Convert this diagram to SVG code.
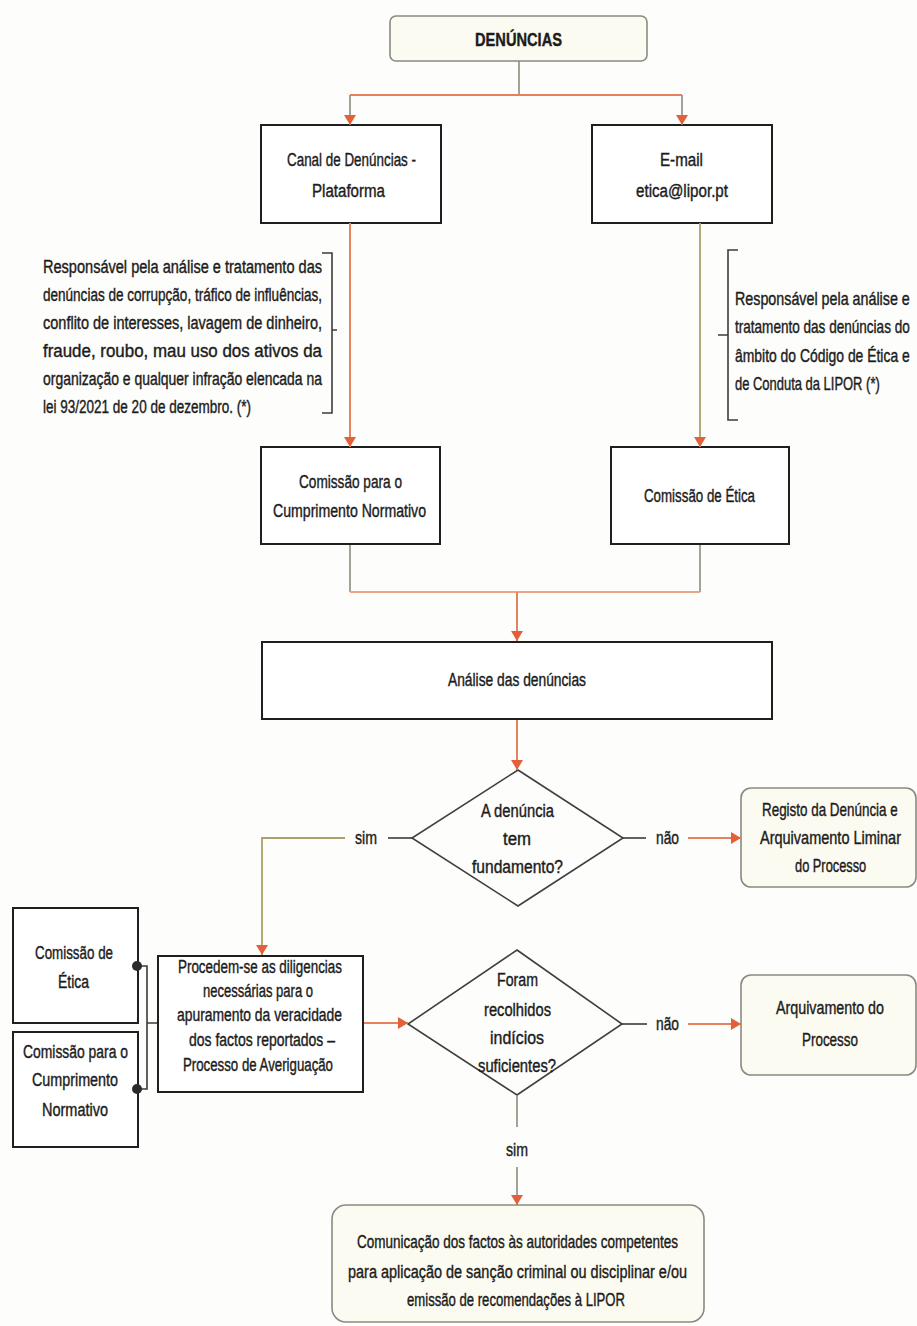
<svg xmlns="http://www.w3.org/2000/svg" width="917" height="1326" viewBox="0 0 917 1326">
<defs>
<marker id="arr" markerUnits="userSpaceOnUse" markerWidth="10" markerHeight="12" viewBox="0 0 10 12" refX="10" refY="6" orient="auto">
<path d="M0,0 L10,6 L0,12 Z" fill="#e2613a"/>
</marker>
<style>
text{font-family:"Liberation Sans",Arial,sans-serif;font-size:18px;fill:#1c1c1c;stroke:#1c1c1c;stroke-width:0.4;dominant-baseline:central}
.b{font-weight:bold;font-size:19px}
.box{fill:#ffffff;stroke:#1f1f1f;stroke-width:2}
.rbox{fill:#fcfbf1;stroke:#8a8a80;stroke-width:1.6}
.dia{fill:none;stroke:#3f3f3f;stroke-width:1.6}
.o{fill:none;stroke:#e3825c;stroke-width:2}
.lo{fill:none;stroke:#e9a585;stroke-width:2}
.g{fill:none;stroke:#8e8c7e;stroke-width:1.6}
.ol{fill:none;stroke:#ab9f6a;stroke-width:1.8}
.d{fill:none;stroke:#3a3a3a;stroke-width:1.6}
.br{fill:none;stroke:#3d3d3d;stroke-width:1.6}
</style>
</defs>
<rect x="0" y="0" width="917" height="1326" fill="#fdfdfb"/>

<g id="denuncias">
<rect class="rbox" x="390" y="16" width="257" height="45" rx="6"/>
<text class="b" x="475" y="39" textLength="87" lengthAdjust="spacingAndGlyphs">DENÚNCIAS</text>
</g>

<g id="canal">
<rect class="box" x="261" y="125" width="180" height="98"/>
<text x="287" y="160" textLength="129" lengthAdjust="spacingAndGlyphs">Canal de Denúncias -</text>
<text x="312" y="191" textLength="73" lengthAdjust="spacingAndGlyphs">Plataforma</text>
</g>

<g id="email">
<rect class="box" x="592" y="125" width="180" height="98"/>
<text x="660" y="160" textLength="43" lengthAdjust="spacingAndGlyphs">E-mail</text>
<text x="636" y="191" textLength="92" lengthAdjust="spacingAndGlyphs">etica@lipor.pt</text>
</g>

<g id="nota-esquerda">
<path class="br" d="M322,253 H332 V413 H322 M332,330 H337"/>
<text x="43" y="267" textLength="279" lengthAdjust="spacingAndGlyphs">Responsável pela análise e tratamento das</text>
<text x="43" y="295" textLength="279" lengthAdjust="spacingAndGlyphs">denúncias de corrupção, tráfico de influências,</text>
<text x="43" y="323" textLength="279" lengthAdjust="spacingAndGlyphs">conflito de interesses, lavagem de dinheiro,</text>
<text x="43" y="351" textLength="279" lengthAdjust="spacingAndGlyphs">fraude, roubo, mau uso dos ativos da</text>
<text x="43" y="379" textLength="279" lengthAdjust="spacingAndGlyphs">organização e qualquer infração elencada na</text>
<text x="43" y="407" textLength="208" lengthAdjust="spacingAndGlyphs">lei 93/2021 de 20 de dezembro. (*)</text>
</g>

<g id="nota-direita">
<path class="br" d="M738,250 H728 V420 H738 M728,335 H718"/>
<text transform="translate(735,299) scale(0.75,1)" x="0" y="0" textLength="233" lengthAdjust="spacingAndGlyphs">Responsável pela análise e</text>
<text transform="translate(735,327) scale(0.75,1)" x="0" y="0" textLength="233" lengthAdjust="spacingAndGlyphs">tratamento das denúncias do</text>
<text transform="translate(735,356) scale(0.75,1)" x="0" y="0" textLength="233" lengthAdjust="spacingAndGlyphs">âmbito do Código de Ética e</text>
<text transform="translate(735,384) scale(0.75,1)" x="0" y="0" textLength="193" lengthAdjust="spacingAndGlyphs">de Conduta da LIPOR (*)</text>
</g>

<g id="comissao-cumprimento">
<rect class="box" x="261" y="447" width="179" height="97"/>
<text x="299" y="482" textLength="103" lengthAdjust="spacingAndGlyphs">Comissão para o</text>
<text x="273" y="511" textLength="153" lengthAdjust="spacingAndGlyphs">Cumprimento Normativo</text>
</g>

<g id="comissao-etica">
<rect class="box" x="611" y="447" width="178" height="97"/>
<text x="644" y="496" textLength="111" lengthAdjust="spacingAndGlyphs">Comissão de Ética</text>
</g>

<g id="analise">
<rect class="box" x="262" y="642" width="510" height="77"/>
<text x="448" y="680" textLength="138" lengthAdjust="spacingAndGlyphs">Análise das denúncias</text>
</g>

<g id="decisao-fundamento">
<polygon class="dia" points="518,770 623,838 518,906 412,838"/>
<text x="481" y="811" textLength="73" lengthAdjust="spacingAndGlyphs">A denúncia</text>
<text x="503" y="839" textLength="28" lengthAdjust="spacingAndGlyphs">tem</text>
<text x="472" y="867" textLength="91" lengthAdjust="spacingAndGlyphs">fundamento?</text>
</g>

<g id="registo">
<rect class="rbox" x="741" y="788" width="175" height="99" rx="10"/>
<text transform="translate(762,810) scale(0.75,1)" x="0" y="0" textLength="181" lengthAdjust="spacingAndGlyphs">Registo da Denúncia e</text>
<text transform="translate(760,838) scale(0.75,1)" x="0" y="0" textLength="188" lengthAdjust="spacingAndGlyphs">Arquivamento Liminar</text>
<text transform="translate(795,866) scale(0.75,1)" x="0" y="0" textLength="95" lengthAdjust="spacingAndGlyphs">do Processo</text>
</g>

<g id="comissao-etica-2">
<rect class="box" x="13" y="908" width="125" height="115"/>
<text x="35" y="953" textLength="78" lengthAdjust="spacingAndGlyphs">Comissão de</text>
<text x="58" y="982" textLength="31" lengthAdjust="spacingAndGlyphs">Ética</text>
</g>

<g id="comissao-cumprimento-2">
<rect class="box" x="13" y="1032" width="125" height="115"/>
<text x="23" y="1052" textLength="105" lengthAdjust="spacingAndGlyphs">Comissão para o</text>
<text x="32" y="1080" textLength="86" lengthAdjust="spacingAndGlyphs">Cumprimento</text>
<text x="42" y="1110" textLength="66" lengthAdjust="spacingAndGlyphs">Normativo</text>
</g>

<g id="averiguacao">
<rect class="box" x="158" y="956" width="205" height="136"/>
<text x="178" y="967" textLength="164" lengthAdjust="spacingAndGlyphs">Procedem-se as diligencias</text>
<text x="203" y="991" textLength="110" lengthAdjust="spacingAndGlyphs">necessárias para o</text>
<text x="177" y="1015" textLength="165" lengthAdjust="spacingAndGlyphs">apuramento da veracidade</text>
<text x="189" y="1040" textLength="146" lengthAdjust="spacingAndGlyphs">dos factos reportados –</text>
<text x="183" y="1065" textLength="150" lengthAdjust="spacingAndGlyphs">Processo de Averiguação</text>
</g>

<g id="decisao-indicios">
<polygon class="dia" points="517,950 622,1024 517,1095 408,1024"/>
<text x="497" y="980" textLength="41" lengthAdjust="spacingAndGlyphs">Foram</text>
<text x="484" y="1010" textLength="67" lengthAdjust="spacingAndGlyphs">recolhidos</text>
<text x="490" y="1038" textLength="54" lengthAdjust="spacingAndGlyphs">indícios</text>
<text x="478" y="1066" textLength="78" lengthAdjust="spacingAndGlyphs">suficientes?</text>
</g>

<g id="arquivamento">
<rect class="rbox" x="741" y="975" width="175" height="100" rx="10"/>
<text x="776" y="1008" textLength="108" lengthAdjust="spacingAndGlyphs">Arquivamento do</text>
<text x="802" y="1040" textLength="56" lengthAdjust="spacingAndGlyphs">Processo</text>
</g>

<g id="comunicacao">
<rect class="rbox" x="332" y="1205" width="372" height="117" rx="14"/>
<text x="357" y="1242" textLength="321" lengthAdjust="spacingAndGlyphs">Comunicação dos factos às autoridades competentes</text>
<text x="348" y="1272" textLength="339" lengthAdjust="spacingAndGlyphs">para aplicação de sanção criminal ou disciplinar e/ou</text>
<text x="407" y="1300" textLength="218" lengthAdjust="spacingAndGlyphs">emissão de recomendações à LIPOR</text>
</g>

<g id="connectors">
<path class="g" d="M519,61 V95"/>
<path class="o" d="M350,95 H682"/>
<path class="g" d="M350,95 V125" marker-end="url(#arr)"/>
<path class="g" d="M682,95 V125" marker-end="url(#arr)"/>
<path class="o" d="M350,223 V447" marker-end="url(#arr)"/>
<path class="ol" d="M700,223 V447" marker-end="url(#arr)"/>
<path class="g" d="M350,545 V592"/>
<path class="g" d="M700,545 V592"/>
<path class="lo" d="M350,592 H700"/>
<path class="o" d="M517,592 V641" marker-end="url(#arr)"/>
<path class="o" d="M517,720 V770" marker-end="url(#arr)"/>
<path class="d" d="M412,838 H388"/>
<path class="ol" d="M345,838 H262 V955" marker-end="url(#arr)"/>
<path class="d" d="M623,838 H646"/>
<path class="o" d="M688,838 H741" marker-end="url(#arr)"/>
<path class="o" d="M364,1023 H408" marker-end="url(#arr)"/>
<path class="d" d="M622,1024 H647"/>
<path class="o" d="M688,1024 H741" marker-end="url(#arr)"/>
<path class="g" d="M517,1095 V1127"/>
<path class="g" d="M517,1167 V1205" marker-end="url(#arr)"/>
<path class="d" d="M137,966 H147 V1089 H137 M147,1023 H157"/>
<circle cx="137" cy="966" r="5" fill="#2a2a2a"/>
<circle cx="137" cy="1089" r="5" fill="#2a2a2a"/>
<text x="355" y="838" textLength="22" lengthAdjust="spacingAndGlyphs">sim</text>
<text x="656" y="838" textLength="23" lengthAdjust="spacingAndGlyphs">não</text>
<text x="656" y="1024" textLength="23" lengthAdjust="spacingAndGlyphs">não</text>
<text x="506" y="1150" textLength="22" lengthAdjust="spacingAndGlyphs">sim</text>
</g>
</svg>
